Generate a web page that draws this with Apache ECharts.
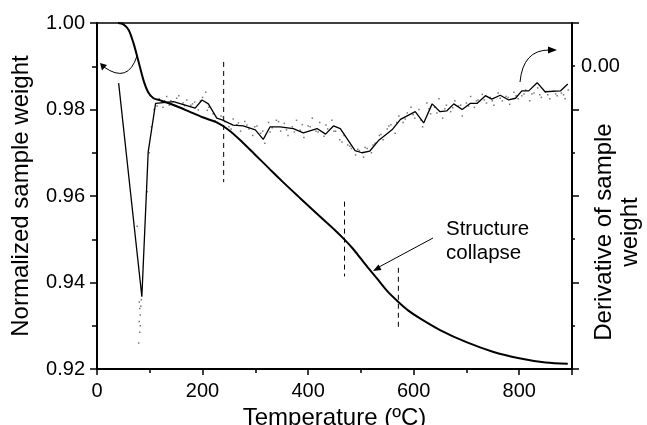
<!DOCTYPE html>
<html><head><meta charset="utf-8">
<script src="https://cdn.jsdelivr.net/npm/echarts@6/dist/echarts.min.js"></script>
<style>html,body{margin:0;padding:0;background:#fff}#c{width:647px;height:425px}</style>
</head><body><div id="c"></div>
<script>
// Normalized sample weight (TG) curve
const tgT = [40, 50, 60, 69, 78, 88, 97, 107, 120, 135, 150, 175, 200, 227, 250, 275, 300, 325, 350, 385, 423, 450, 470, 485, 500, 515, 530, 550, 571, 590, 612, 650, 700, 750, 800, 850, 892];
const tgW = [1.000, 0.9997, 0.9984, 0.9954, 0.9914, 0.9868, 0.9840, 0.9826, 0.9821, 0.9815, 0.9808, 0.9795, 0.9782, 0.9770, 0.9752, 0.9725, 0.9695, 0.9665, 0.9635, 0.9595, 0.9552, 0.9522, 0.9498, 0.9478, 0.9455, 0.9432, 0.9410, 0.9380, 0.9355, 0.9335, 0.9317, 0.9290, 0.9262, 0.9240, 0.9225, 0.9215, 0.9212];
// Derivative of sample weight (smoothed line)
const dT = [41, 85, 97, 111, 145, 186, 199, 211, 227, 237, 258, 277, 300, 315, 328, 347, 372, 391, 417, 433, 448, 461, 489, 502, 517, 534, 559, 575, 603, 619, 635, 650, 663, 676, 692, 707, 720, 736, 748, 764, 780, 793, 805, 818, 834, 849, 878, 892];
const dV = [-0.0039, -0.0533, -0.0198, -0.0086, -0.0082, -0.0097, -0.0078, -0.0087, -0.0120, -0.0124, -0.0136, -0.0138, -0.0147, -0.0169, -0.0140, -0.0140, -0.0144, -0.0154, -0.0144, -0.0157, -0.0138, -0.0144, -0.0195, -0.0200, -0.0196, -0.0171, -0.0147, -0.0123, -0.0105, -0.0131, -0.0087, -0.0105, -0.0103, -0.0087, -0.0100, -0.0086, -0.0086, -0.0068, -0.0076, -0.0067, -0.0078, -0.0074, -0.0057, -0.0057, -0.0038, -0.0059, -0.0057, -0.0041];
// Derivative raw points (dots)
const dotT = [76, 79, 80, 80, 81, 81, 82, 82, 83, 84, 95, 99, 103, 108, 118, 125, 132, 140, 148, 155, 163, 170, 178, 185, 192, 200, 206, 212, 220, 228, 235, 242, 250, 258, 265, 272, 280, 288, 295, 303, 310, 318, 325, 332, 340, 348, 355, 362, 370, 378, 385, 392, 400, 408, 415, 422, 430, 437, 445, 452, 460, 468, 475, 482, 490, 497, 505, 512, 520, 527, 535, 542, 550, 557, 565, 572, 580, 588, 595, 602, 610, 617, 625, 632, 640, 648, 655, 662, 670, 678, 685, 692, 700, 708, 715, 722, 730, 738, 745, 752, 760, 768, 775, 782, 790, 798, 805, 812, 820, 828, 835, 842, 850, 858, 865, 872, 880, 887, 893,
  114, 128, 137, 151, 166, 181, 196, 209, 224, 239, 254, 268, 284, 299, 314, 328, 344, 359, 374, 389, 404, 419, 434, 449, 464, 479, 494, 508, 523, 538, 553, 568, 584, 599, 614, 629, 644, 659, 674, 689, 704, 719, 734, 749, 764, 779, 794, 809, 824, 839, 854, 869, 884];
const dotV = [-0.0370, -0.0640, -0.0545, -0.0590, -0.0560, -0.0615, -0.0575, -0.0600, -0.0555, -0.0540, -0.0290, -0.0200, -0.0140, -0.0100, -0.0075, -0.0095, -0.0070, -0.0080, -0.0092, -0.0068, -0.0085, -0.0078, -0.0090, -0.0083, -0.0101, -0.0072, -0.0060, -0.0095, -0.0110, -0.0130, -0.0115, -0.0128, -0.0140, -0.0122, -0.0135, -0.0150, -0.0128, -0.0145, -0.0160, -0.0138, -0.0155, -0.0178, -0.0130, -0.0142, -0.0125, -0.0150, -0.0132, -0.0160, -0.0140, -0.0125, -0.0148, -0.0165, -0.0138, -0.0120, -0.0150, -0.0130, -0.0162, -0.0145, -0.0125, -0.0150, -0.0170, -0.0160, -0.0182, -0.0190, -0.0205, -0.0195, -0.0210, -0.0190, -0.0200, -0.0178, -0.0160, -0.0170, -0.0145, -0.0135, -0.0155, -0.0115, -0.0130, -0.0108, -0.0095, -0.0120, -0.0100, -0.0140, -0.0085, -0.0110, -0.0095, -0.0075, -0.0120, -0.0090, -0.0105, -0.0080, -0.0092, -0.0115, -0.0085, -0.0070, -0.0095, -0.0078, -0.0065, -0.0085, -0.0072, -0.0090, -0.0062, -0.0080, -0.0070, -0.0088, -0.0060, -0.0075, -0.0068, -0.0055, -0.0080, -0.0062, -0.0050, -0.0072, -0.0060, -0.0075, -0.0058, -0.0068, -0.0062, -0.0075, -0.0055,
  -0.0092, -0.0080, -0.0090, -0.0074, -0.0091, -0.0087, -0.0080, -0.0102, -0.0126, -0.0118, -0.0145, -0.0131, -0.0136, -0.0140, -0.0150, -0.0152, -0.0128, -0.0147, -0.0152, -0.0135, -0.0140, -0.0152, -0.0136, -0.0150, -0.0175, -0.0185, -0.0192, -0.0188, -0.0182, -0.0158, -0.0138, -0.0130, -0.0122, -0.0112, -0.0125, -0.0098, -0.0108, -0.0098, -0.0096, -0.0090, -0.0092, -0.0080, -0.0078, -0.0080, -0.0074, -0.0072, -0.0068, -0.0064, -0.0064, -0.0066, -0.0066, -0.0064, -0.0066];
// Dashed marker lines (temperature, weight from, weight to)
const markT = [240, 469, 571];
const markTop = [0.9910, 0.9587, 0.9434];
const markBottom = [0.9632, 0.9414, 0.9290];

const xTitle = 'Temperature (ºC)';
const yTitle = 'Normalized sample weight';
const y2Title = 'Derivative of sample\nweight';
const note = 'Structure\ncollapse';

const FONT = 'Liberation Sans, Arial, sans-serif';
const zip = (a, b) => a.map((v, i) => [v, b[i]]);

const chart = echarts.init(document.getElementById('c'), null, {renderer: 'canvas'});
const series = [
  {type: 'line', xAxisIndex: 0, yAxisIndex: 0, data: zip(tgT, tgW), smooth: 0.3, symbol: 'none',
   lineStyle: {color: '#000', width: 2}, z: 5},
  {type: 'scatter', xAxisIndex: 0, yAxisIndex: 1, data: zip(dotT, dotV), symbol: 'rect', symbolSize: 1.5,
   itemStyle: {color: '#555'}, z: 3},
  {type: 'line', xAxisIndex: 0, yAxisIndex: 1, data: zip(dT, dV), symbol: 'none',
   lineStyle: {color: '#000', width: 1.3}, z: 4}
];
markT.forEach((t, i) => {
  series.push({type: 'line', xAxisIndex: 0, yAxisIndex: 0, data: [[t, markTop[i]], [t, markBottom[i]]], symbol: 'none',
    lineStyle: {color: '#000', width: 1, type: [5, 4]}, z: 2});
});

chart.setOption({
  animation: false,
  backgroundColor: '#fff',
  grid: {left: 97, right: 75, top: 23, bottom: 56, show: true, borderColor: '#000', borderWidth: 1.5,
         backgroundColor: 'transparent', containLabel: false, outerBoundsMode: 'none'},
  xAxis: [{type: 'value', min: 0, max: 900, interval: 200,
    name: xTitle, nameLocation: 'middle', nameGap: 36, nameTextStyle: {fontFamily: FONT, fontSize: 24, color: '#000'},
    axisLine: {onZero: false, lineStyle: {color: '#000', width: 2}},
    axisTick: {inside: false, length: 6, lineStyle: {color: '#000', width: 1.5}},
    minorTick: {show: true, splitNumber: 2, length: 4, lineStyle: {color: '#000', width: 1.5}},
    axisLabel: {fontFamily: FONT, fontSize: 20, color: '#000', margin: 12, showMaxLabel: false},
    splitLine: {show: false}}],
  yAxis: [
    {type: 'value', min: 0.92, max: 1.00, interval: 0.02, position: 'left',
     name: yTitle, nameLocation: 'middle', nameGap: 64, nameRotate: 90, nameTextStyle: {fontFamily: FONT, fontSize: 24, color: '#000'},
     axisLine: {onZero: false, lineStyle: {color: '#000', width: 2}},
     axisTick: {length: 7, lineStyle: {color: '#000', width: 1.5}},
     minorTick: {show: true, splitNumber: 2, length: 5, lineStyle: {color: '#000', width: 1.5}},
     axisLabel: {fontFamily: FONT, fontSize: 20, color: '#000', margin: 12, formatter: v => v.toFixed(2)},
     splitLine: {show: false}},
    {type: 'value', min: -0.07, max: 0.01, interval: 0.02, position: 'right',
     axisLine: {show: true, onZero: false, lineStyle: {color: '#000', width: 2}},
     axisTick: {length: 7, lineStyle: {color: '#000', width: 1.5}},
     minorTick: {show: true, splitNumber: 2, length: 3, lineStyle: {color: '#000', width: 1.5}},
     axisLabel: {show: false}, splitLine: {show: false}},
    {type: 'value', min: -0.07, max: 0.01, interval: 0.01, position: 'right',
     axisLine: {show: false, onZero: false}, axisTick: {show: false},
     axisLabel: {fontFamily: FONT, fontSize: 20, color: '#000', margin: 9,
       formatter: v => (Math.abs(v) < 1e-6 ? '0.00' : '')},
     splitLine: {show: false}}
  ],
  series: series,
  graphic: [
    {type: 'text', x: 617, y: 232, rotation: Math.PI / 2,
     style: {text: y2Title, fontFamily: FONT, fontSize: 24, lineHeight: 26, fill: '#000', align: 'center', verticalAlign: 'middle'}},
    {type: 'bezierCurve', shape: {x1: 137, y1: 56, x2: 104, y2: 67, cpx1: 128, cpy1: 84}, style: {stroke: '#000', lineWidth: 1, fill: null}},
    {type: 'polygon', shape: {points: [[100, 63], [107, 65], [102, 70.5]]}, style: {fill: '#000'}},
    {type: 'bezierCurve', shape: {x1: 520, y1: 82, x2: 549, y2: 50, cpx1: 523, cpy1: 50}, style: {stroke: '#000', lineWidth: 1, fill: null}},
    {type: 'polygon', shape: {points: [[557, 50], [548, 46.5], [548, 53.5]]}, style: {fill: '#000'}},
    {type: 'line', shape: {x1: 433, y1: 238, x2: 379, y2: 267}, style: {stroke: '#000', lineWidth: 1}},
    {type: 'polygon', shape: {points: [[373, 271], [381.5, 270], [378.5, 264.5]]}, style: {fill: '#000'}},
    {type: 'text', left: 446, top: 217, style: {text: note, fontFamily: FONT, fontSize: 20.5, lineHeight: 24, fill: '#000'}}
  ]
});
</script>
</body></html>
